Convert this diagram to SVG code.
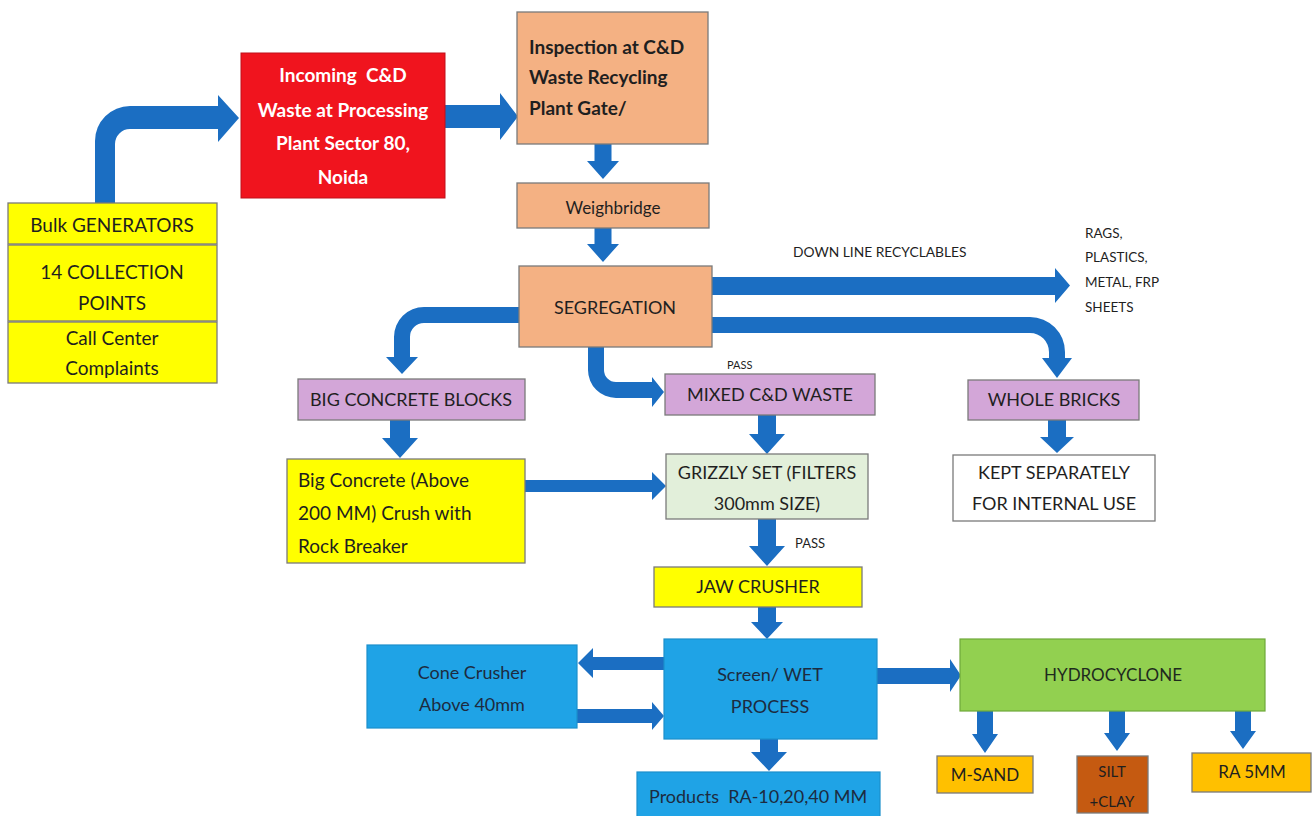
<svg xmlns="http://www.w3.org/2000/svg" width="1315" height="816" viewBox="0 0 1315 816">
<style>
  text { font-family: Lato, "Open Sans", "Liberation Sans", sans-serif; fill: #1f1f1f; }
  .c { text-anchor: middle; }
  .b { font-weight: bold; }
  .box { stroke: #7a7a7a; stroke-width: 1.3; }
  .yel { fill: #ffff00; }
  .peach { fill: #f4b183; }
  .lav { fill: #d3a6d8; }
  .sky { fill: #1fa3e6; stroke: #1c8fcc; stroke-width: 1.2; }
  .arr { fill: #1b6ec2; }
  .dk { fill: #1d2b40; }
</style>
<rect width="1315" height="816" fill="#ffffff"/>

<g id="connectors">
  <!-- sources to incoming -->
  <path class="arr" d="M95,203 V141 A35,35 0 0 1 130,106 H218 V95 L239,118 L218,142 V129 H130 A15,15 0 0 0 115,144 V203 Z"/>
  <!-- incoming to inspection -->
  <path class="arr" d="M445,105 H500 V93 L518,116.5 L500,140 V128 H445 Z"/>
  <!-- inspection to weighbridge -->
  <path class="arr" d="M594.5,144 V161 H587 L603,179 L619,161 H611.5 V144 Z"/>
  <!-- weighbridge to segregation -->
  <path class="arr" d="M594.5,228 V244 H587 L603,262 L619,244 H611.5 V228 Z"/>
  <!-- segregation to recyclables -->
  <path class="arr" d="M712,277 H1055 V268 L1070,285.5 L1055,303 V295 H712 Z"/>
  <!-- segregation to whole bricks -->
  <path class="arr" d="M712,317 H1030 A35,35 0 0 1 1065,352 V358 H1072 L1057,378 L1042,358 H1049 V352 A19,19 0 0 0 1030,333 H712 Z"/>
  <!-- whole bricks to kept separately -->
  <path class="arr" d="M1048,420 V437 H1040 L1057,453 L1074,437 H1066 V420 Z"/>
  <!-- segregation to big concrete blocks -->
  <path class="arr" d="M519,307 H424 A30,30 0 0 0 394,337 V357 H386 L402,374 L418,357 H410 V337 A14,14 0 0 1 424,323 H519 Z"/>
  <!-- segregation to mixed -->
  <path class="arr" d="M588,347 V370 A28,28 0 0 0 616,398 H652 V407 L664,392 L652,377 V382 H616 A12,12 0 0 1 604,370 V347 Z"/>
  <!-- big concrete blocks to big concrete -->
  <path class="arr" d="M390,420 V438 H382 L400,458 L418,438 H410 V420 Z"/>
  <!-- big concrete to grizzly -->
  <path class="arr" d="M525,480 H652 V472 L666,486 L652,500 V492 H525 Z"/>
  <!-- mixed to grizzly -->
  <path class="arr" d="M758,415 V434 H749 L767,454 L785,434 H776 V415 Z"/>
  <!-- grizzly to jaw -->
  <path class="arr" d="M758,519 V546 H749 L767,566 L785,546 H776 V519 Z"/>
  <!-- jaw to screen -->
  <path class="arr" d="M758,607 V622 H751 L767,639 L783,622 H776 V607 Z"/>
  <!-- screen to cone -->
  <path class="arr" d="M664,657 H593 V648 L578,663 L593,678 V670 H664 Z"/>
  <!-- cone to screen -->
  <path class="arr" d="M577,709 H652 V702 L664,716 L652,730 V723 H577 Z"/>
  <!-- screen to products -->
  <path class="arr" d="M760,739 V752 H751 L769,771 L787,752 H778 V739 Z"/>
  <!-- screen to hydrocyclone -->
  <path class="arr" d="M877,668 H950 V659 L961,675.5 L950,692 V684 H877 Z"/>
  <!-- hydrocyclone outputs -->
  <path class="arr" d="M977,711 V734 H972 L985,753 L998,734 H993 V711 Z"/>
  <path class="arr" d="M1109,711 V733 H1104 L1117,751 L1130,733 H1125 V711 Z"/>
  <path class="arr" d="M1235,711 V731 H1230 L1243,749 L1256,731 H1251 V711 Z"/>
</g>

<g id="sources">
  <rect class="box yel" x="8" y="203" width="209" height="41"/>
  <rect class="box yel" x="8" y="245" width="209" height="76"/>
  <rect class="box yel" x="8" y="322" width="209" height="61"/>
  <text class="c" x="112" y="232" font-size="19">Bulk GENERATORS</text>
  <text class="c" x="112" y="279" font-size="19">14 COLLECTION</text>
  <text class="c" x="112" y="310" font-size="19">POINTS</text>
  <text class="c" x="112" y="345" font-size="19">Call Center</text>
  <text class="c" x="112" y="375" font-size="19">Complaints</text>
</g>

<g id="incoming">
  <rect x="241" y="53" width="204" height="145" fill="#f0141e" stroke="#c0101a" stroke-width="1"/>
  <text class="c b" x="343" y="82" font-size="19" style="fill:#ffffff" xml:space="preserve">Incoming  C&amp;D</text>
  <text class="c b" x="343" y="117" font-size="19" style="fill:#ffffff">Waste at Processing</text>
  <text class="c b" x="343" y="150" font-size="19" style="fill:#ffffff">Plant Sector 80,</text>
  <text class="c b" x="343" y="184" font-size="19" style="fill:#ffffff">Noida</text>
</g>

<g id="inspection">
  <rect class="box peach" x="517" y="12" width="191" height="132"/>
  <text class="b" x="529" y="54" font-size="19">Inspection at C&amp;D</text>
  <text class="b" x="529" y="84" font-size="19">Waste Recycling</text>
  <text class="b" x="529" y="115" font-size="19">Plant Gate/</text>
</g>

<g id="weighbridge">
  <rect class="box peach" x="517" y="183" width="192" height="45"/>
  <text class="c" x="613" y="214" font-size="17">Weighbridge</text>
</g>

<g id="segregation">
  <rect class="box peach" x="519" y="266" width="193" height="81"/>
  <text class="c" x="615" y="314" font-size="18">SEGREGATION</text>
</g>

<g id="recyclables-label">
  <text x="793" y="257" font-size="13.8">DOWN LINE RECYCLABLES</text>
</g>

<g id="recyclables">
  <text x="1085" y="238" font-size="13.5">RAGS,</text>
  <text x="1085" y="262" font-size="13.5">PLASTICS,</text>
  <text x="1085" y="287" font-size="13.5">METAL, FRP</text>
  <text x="1085" y="312" font-size="13.5">SHEETS</text>
</g>

<g id="big-concrete-blocks">
  <rect class="box lav" x="298" y="379" width="227" height="41"/>
  <text class="c" x="411" y="406" font-size="18">BIG CONCRETE BLOCKS</text>
</g>

<g id="mixed">
  <text x="727" y="369" font-size="11">PASS</text>
  <rect class="box lav" x="665" y="374" width="210" height="41"/>
  <text class="c" x="770" y="401" font-size="18">MIXED C&amp;D WASTE</text>
</g>

<g id="whole-bricks">
  <rect class="box lav" x="968" y="380" width="171" height="40"/>
  <text class="c" x="1054" y="406" font-size="18">WHOLE BRICKS</text>
</g>

<g id="kept">
  <rect class="box" x="953" y="455" width="202" height="66" fill="#ffffff"/>
  <text class="c" x="1054" y="479" font-size="18">KEPT SEPARATELY</text>
  <text class="c" x="1054" y="510" font-size="18">FOR INTERNAL USE</text>
</g>

<g id="big-concrete">
  <rect class="box yel" x="287" y="459" width="238" height="104"/>
  <text x="298" y="487" font-size="19">Big Concrete (Above</text>
  <text x="298" y="520" font-size="19">200 MM) Crush with</text>
  <text x="298" y="553" font-size="19">Rock Breaker</text>
</g>

<g id="grizzly">
  <rect class="box" x="666" y="454" width="202" height="65" fill="#e2efda"/>
  <text class="c" x="767" y="479" font-size="18">GRIZZLY SET (FILTERS</text>
  <text class="c" x="767" y="510" font-size="18">300mm SIZE)</text>
</g>

<g id="jaw">
  <text x="795" y="548" font-size="13">PASS</text>
  <rect class="box yel" x="654" y="567" width="208" height="40"/>
  <text class="c" x="758" y="593" font-size="18">JAW CRUSHER</text>
</g>

<g id="cone">
  <rect class="sky" x="367" y="645" width="210" height="83"/>
  <text class="c dk" x="472" y="679" font-size="18">Cone Crusher</text>
  <text class="c dk" x="472" y="711" font-size="18">Above 40mm</text>
</g>

<g id="screen">
  <rect class="sky" x="664" y="639" width="213" height="100"/>
  <text class="c dk" x="770" y="681" font-size="18">Screen/ WET</text>
  <text class="c dk" x="770" y="713" font-size="18">PROCESS</text>
</g>

<g id="products">
  <rect class="sky" x="637" y="772" width="243" height="50"/>
  <text class="dk" x="649" y="803" font-size="18" xml:space="preserve">Products  RA-10,20,40 MM</text>
</g>

<g id="hydrocyclone">
  <rect x="960" y="639" width="305" height="72" fill="#92d050" stroke="#6fa83a" stroke-width="1.2"/>
  <text class="c" x="1113" y="681" font-size="17" style="fill:#1e2a1e">HYDROCYCLONE</text>
</g>

<g id="m-sand">
  <rect class="box" x="937" y="756" width="96" height="37" fill="#ffc000"/>
  <text class="c" x="985" y="781" font-size="17">M-SAND</text>
</g>

<g id="silt">
  <rect class="box" x="1077" y="756" width="71" height="57" fill="#c55a11"/>
  <text class="c" x="1112" y="777" font-size="15">SILT</text>
  <text class="c" x="1112" y="807" font-size="15">+CLAY</text>
</g>

<g id="ra5">
  <rect class="box" x="1192" y="753" width="119" height="39" fill="#ffc000"/>
  <text class="c" x="1252" y="778" font-size="17">RA 5MM</text>
</g>
</svg>
